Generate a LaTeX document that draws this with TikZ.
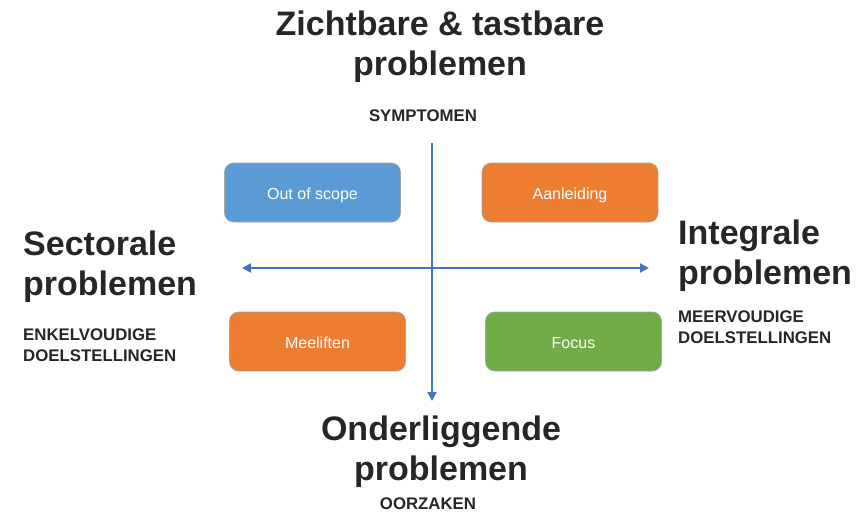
\documentclass[tikz,border=0pt]{standalone}
\usepackage{fontspec}
\setmainfont{Liberation Sans}
\usetikzlibrary{arrows.meta}
\definecolor{txt}{HTML}{262626}
\definecolor{axis}{HTML}{4472C4}
\definecolor{cblue}{HTML}{5B9BD5}
\definecolor{corange}{HTML}{ED7D31}
\definecolor{cgreen}{HTML}{70AD47}
\tikzset{
  big/.style={font=\fontsize{34}{40}\selectfont\bfseries, text=txt, inner sep=0pt},
  small/.style={font=\fontsize{16.8}{21}\selectfont\bfseries, text=txt, inner sep=0pt},
  box/.style={draw=black!35, line width=0.6pt, rounded corners=9pt, minimum width=176pt, minimum height=59pt, text=white, font=\fontsize{16}{19}\selectfont, inner sep=0pt, text height=14pt, text depth=0pt},
  axisline/.style={draw=axis, line width=2.2pt},
  tip/.style={-{Triangle[length=9pt,width=9pt]}}
}
\begin{document}
\begin{tikzpicture}[x=1pt,y=-1pt]
\useasboundingbox (0,0) rectangle (863,512);
% titles
\node[big, align=center] (top) at (440,47) {Zichtbare \& tastbare\\problemen};
\node[small] (symp) at (423,116) {SYMPTOMEN};
\node[big, align=left, anchor=west] (left) at (23,267) {Sectorale\\problemen};
\node[small, align=left, anchor=west] (lsub) at (23,345) {ENKELVOUDIGE\\DOELSTELLINGEN};
\node[big, align=left, anchor=west] (right) at (678,256) {Integrale\\problemen};
\node[small, align=left, anchor=west] (rsub) at (678,327) {MEERVOUDIGE\\DOELSTELLINGEN};
\node[big, align=center] (bottom) at (441,452) {Onderliggende\\problemen};
\node[small] (oorz) at (428,504) {OORZAKEN};
% axes
\coordinate (vt) at (432,143);
\coordinate (vb) at (432,401);
\coordinate (hl) at (242,268);
\coordinate (hr) at (649,268);
\draw[axisline, tip] (vt) -- (vb);
\draw[axisline, {Triangle[length=9pt,width=9pt]}-{Triangle[length=9pt,width=9pt]}] (hl) -- (hr);
% boxes
\node[box, fill=cblue] (oos) at (312.5,192.5) {Out of scope};
\node[box, fill=corange] (aan) at (570,192.5) {Aanleiding};
\node[box, fill=corange] (mee) at (317.5,341.5) {Meeliften};
\node[box, fill=cgreen] (foc) at (573.5,341.5) {Focus};
\end{tikzpicture}
\end{document}
